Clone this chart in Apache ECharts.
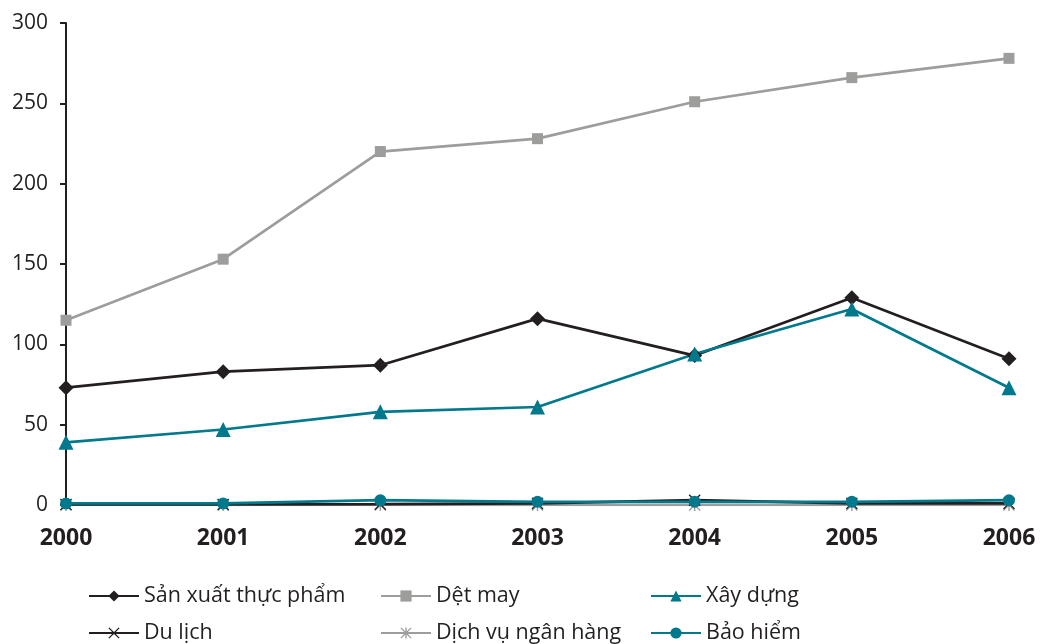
<!DOCTYPE html>
<html>
<head>
<meta charset="utf-8">
<script src="https://cdn.jsdelivr.net/npm/echarts@6/dist/echarts.min.js"></script>
<style>
  html, body { margin: 0; padding: 0; background: #ffffff; }
  #chart { width: 1042px; height: 644px; }
</style>
</head>
<body>
<div id="chart"></div>
<script>
// Years on the horizontal axis
const years = ['2000', '2001', '2002', '2003', '2004', '2005', '2006'];

// Values per sector
const sanXuatThucPham = [73, 83, 87, 116, 93, 129, 91];
const detMay = [115, 153, 220, 228, 251, 266, 278];
const xayDung = [39, 47, 58, 61, 94, 122, 73];
const duLich = [0.3, 0.3, 0.5, 1, 3, 1, 1];
const dichVuNganHang = [0, 0, 0, 0, 0, 0, 0];
const baoHiem = [1, 1, 3, 2, 2, 2, 3];

const seriesNames = ['Sản xuất thực phẩm', 'Dệt may', 'Xây dựng', 'Du lịch', 'Dịch vụ ngân hàng', 'Bảo hiểm'];

const INK = '#231f20';
const GREY = '#9d9d9c';
const TEAL = '#00798c';
const FONT = '"Open Sans", "Noto Sans", sans-serif';

// Marker shapes: a cross and an asterisk
const crossPath = 'path://M0,0.8 L0.8,0 L5,4.2 L9.2,0 L10,0.8 L5.8,5 L10,9.2 L9.2,10 L5,5.8 L0.8,10 L0,9.2 L4.2,5 Z';
const starPath = 'path://M0,0.8 L0.8,0 L5,4.2 L9.2,0 L10,0.8 L5.8,5 L10,9.2 L9.2,10 L5,5.8 L0.8,10 L0,9.2 L4.2,5 Z M4.4,0 L5.6,0 L5.6,10 L4.4,10 Z';

function lineSeries(name, data, color, symbol, size) {
  return {
    name: name,
    type: 'line',
    data: data,
    symbol: symbol,
    symbolSize: size,
    showAllSymbol: true,
    lineStyle: { color: color, width: 2.7 },
    itemStyle: { color: color },
    emphasis: { disabled: true },
    animation: false
  };
}

// One legend entry per slot: three columns, two rows
const legendText = { fontFamily: FONT, fontSize: 21.5, color: INK };
function legendItem(left, top, name) {
  return {
    orient: 'horizontal',
    left: left,
    top: top,
    itemWidth: 50,
    itemHeight: 14,
    itemGap: 5,
    padding: 0,
    textStyle: legendText,
    data: [name],
    selectedMode: false
  };
}

const chart = echarts.init(document.getElementById('chart'), null, { renderer: 'canvas' });
chart.setOption({
  backgroundColor: '#ffffff',
  animation: false,
  grid: { left: 66, right: 33, top: 23, bottom: 139, containLabel: false },
  legend: [
    legendItem(88, 585, seriesNames[0]),
    legendItem(380, 585, seriesNames[1]),
    legendItem(650, 585, seriesNames[2]),
    legendItem(88, 622, seriesNames[3]),
    legendItem(380, 622, seriesNames[4]),
    legendItem(650, 622, seriesNames[5])
  ],
  xAxis: {
    type: 'category',
    data: years,
    boundaryGap: false,
    axisLine: { show: true, lineStyle: { color: INK, width: 2 } },
    axisTick: { show: false },
    axisLabel: { fontFamily: FONT, fontSize: 23, fontWeight: 'bold', color: INK, margin: 22 }
  },
  yAxis: {
    type: 'value',
    min: 0,
    max: 300,
    interval: 50,
    axisLine: { show: true, lineStyle: { color: INK, width: 2 } },
    axisTick: { show: true, length: 6, lineStyle: { color: INK, width: 2 } },
    splitLine: { show: false },
    axisLabel: { fontFamily: FONT, fontSize: 21, color: INK, margin: 18 }
  },
  series: [
    lineSeries(seriesNames[4], dichVuNganHang, GREY, starPath, 12),
    lineSeries(seriesNames[3], duLich, INK, crossPath, 12),
    lineSeries(seriesNames[1], detMay, GREY, 'rect', 11),
    lineSeries(seriesNames[0], sanXuatThucPham, INK, 'diamond', 15),
    lineSeries(seriesNames[2], xayDung, TEAL, 'triangle', 15),
    lineSeries(seriesNames[5], baoHiem, TEAL, 'circle', 12)
  ]
});
</script>
</body>
</html>
